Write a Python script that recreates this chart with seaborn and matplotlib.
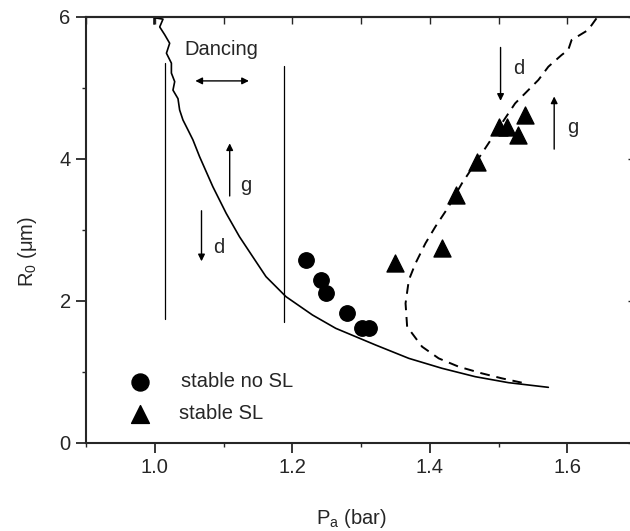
import numpy as np
import matplotlib
matplotlib.use("Agg")
import matplotlib.pyplot as plt
import seaborn as sns
from matplotlib.ticker import MultipleLocator

sns.set_style("ticks")
plt.rcParams["font.family"] = ["Liberation Sans", "DejaVu Sans"]
plt.rcParams["mathtext.fontset"] = "custom"
plt.rcParams["mathtext.rm"] = "Liberation Sans"
plt.rcParams["mathtext.it"] = "Liberation Sans"

# solid threshold curve (wiggly "dancing" part at the top)
solid_x = [0.999, 0.999, 1.012, 1.0072, 1.0145, 1.0217, 1.017, 1.0242, 1.0242,
           1.029, 1.0265, 1.0338, 1.0362, 1.041, 1.0483, 1.0555, 1.0652,
           1.0845, 1.1039, 1.1232, 1.1425, 1.1618, 1.1909, 1.2294, 1.2633,
           1.3213, 1.3696, 1.4178, 1.4662, 1.5145, 1.5725]
solid_y = [5.90, 5.99, 5.97, 5.86, 5.75, 5.63, 5.49, 5.35, 5.21,
           5.09, 4.97, 4.85, 4.69, 4.55, 4.41, 4.27, 4.033,
           3.610, 3.235, 2.906, 2.624, 2.343, 2.061, 1.803, 1.615,
           1.380, 1.192, 1.052, 0.934, 0.850, 0.784]

# dashed curve
dash_x = [1.6425, 1.6304, 1.6063, 1.6014, 1.5918, 1.5725, 1.558, 1.5387, 1.5242,
          1.5048, 1.4855, 1.4662, 1.4468, 1.4275, 1.4082, 1.3937, 1.3793,
          1.3696, 1.3648, 1.3671, 1.3888, 1.413, 1.442, 1.4758, 1.5048, 1.5338]
dash_y = [5.981, 5.817, 5.676, 5.535, 5.465, 5.300, 5.113, 4.925, 4.784,
          4.503, 4.221, 3.939, 3.657, 3.329, 3.047, 2.812, 2.531,
          2.296, 1.967, 1.638, 1.357, 1.192, 1.075, 0.981, 0.911, 0.850]

# measurements
noSL_x = [1.220, 1.242, 1.249, 1.280, 1.301, 1.312]
noSL_y = [2.58, 2.30, 2.11, 1.83, 1.62, 1.62]
SL_x = [1.349, 1.418, 1.438, 1.468, 1.500, 1.512, 1.529, 1.539]
SL_y = [2.54, 2.74, 3.49, 3.96, 4.45, 4.45, 4.34, 4.62]

# boundaries of the dancing region
vlines_x = [1.015, 1.188]
vlines_lo = [1.75, 1.70]
vlines_hi = [5.35, 5.31]

fig = plt.figure(figsize=(6.3, 5.31), dpi=100)
ax = fig.add_axes([86 / 630, 88 / 531, 550 / 630, 426 / 531])

sns.lineplot(x=solid_x, y=solid_y, sort=False, estimator=None, color="black",
             lw=1.2, ax=ax)
sns.lineplot(x=dash_x, y=dash_y, sort=False, estimator=None, color="black",
             lw=1.4, ax=ax, linestyle=(0, (5, 3.5)))
sns.scatterplot(x=noSL_x, y=noSL_y, marker="o", s=125, color="black",
                edgecolor="black", ax=ax, zorder=5)
sns.scatterplot(x=SL_x, y=SL_y, marker="^", s=150, color="black",
                edgecolor="black", ax=ax, zorder=5)

for vx, lo, hi in zip(vlines_x, vlines_lo, vlines_hi):
    ax.plot([vx, vx], [lo, hi], color="black", lw=0.9)

fs = 14.5
arw = dict(arrowstyle="-|>", color="black", lw=1.0, mutation_scale=10)
ax.text(1.043, 5.54, "Dancing", fontsize=fs, va="center")
ax.annotate("", xy=(1.141, 5.10), xytext=(1.055, 5.10),
            arrowprops=dict(arrowstyle="<|-|>", color="black", lw=1.0, mutation_scale=10))
ax.annotate("", xy=(1.109, 4.26), xytext=(1.109, 3.44), arrowprops=arw)
ax.text(1.124, 3.63, "g", fontsize=fs, va="center")
ax.annotate("", xy=(1.068, 2.52), xytext=(1.068, 3.31), arrowprops=arw)
ax.text(1.085, 2.76, "d", fontsize=fs, va="center")
ax.annotate("", xy=(1.503, 4.78), xytext=(1.503, 5.61), arrowprops=arw)
ax.text(1.521, 5.28, "d", fontsize=fs, va="center")
ax.annotate("", xy=(1.581, 4.92), xytext=(1.581, 4.10), arrowprops=arw)
ax.text(1.600, 4.45, "g", fontsize=fs, va="center")

# legend drawn in data space
ax.scatter([0.978], [0.86], marker="o", s=150, color="black")
ax.scatter([0.978], [0.41], marker="^", s=165, color="black")
ax.text(1.038, 0.86, "stable no SL", fontsize=fs, va="center")
ax.text(1.035, 0.41, "stable SL", fontsize=fs, va="center")

ax.set_xlim(0.9, 1.7)
ax.set_ylim(0, 6)
ax.xaxis.set_major_locator(MultipleLocator(0.2))
ax.xaxis.set_minor_locator(MultipleLocator(0.1))
ax.yaxis.set_major_locator(MultipleLocator(2))
ax.yaxis.set_minor_locator(MultipleLocator(1))
ax.tick_params(which="major", direction="out", length=7, width=1.3,
               labelsize=fs, pad=4)
ax.tick_params(which="minor", direction="out", length=3, width=1.0)

top = ax.secondary_xaxis("top")
top.xaxis.set_major_locator(MultipleLocator(0.1))
top.tick_params(direction="in", length=5, width=1.0, labeltop=False)
right = ax.secondary_yaxis("right")
right.yaxis.set_major_locator(MultipleLocator(2))
right.tick_params(direction="in", length=6, width=1.0, labelright=False)

for sp in ax.spines.values():
    sp.set_linewidth(1.5)
top.spines["top"].set_linewidth(1.5)

ax.set_xlabel(r"P$_{\rm a}$ (bar)", fontsize=fs)
ax.set_ylabel(r"R$_0$ ($\mu$m)", fontsize=fs)
ax.xaxis.set_label_coords(0.482, -0.150)
ax.yaxis.set_label_coords(-0.086, 0.45)

fig.savefig("out.png", dpi=100)
